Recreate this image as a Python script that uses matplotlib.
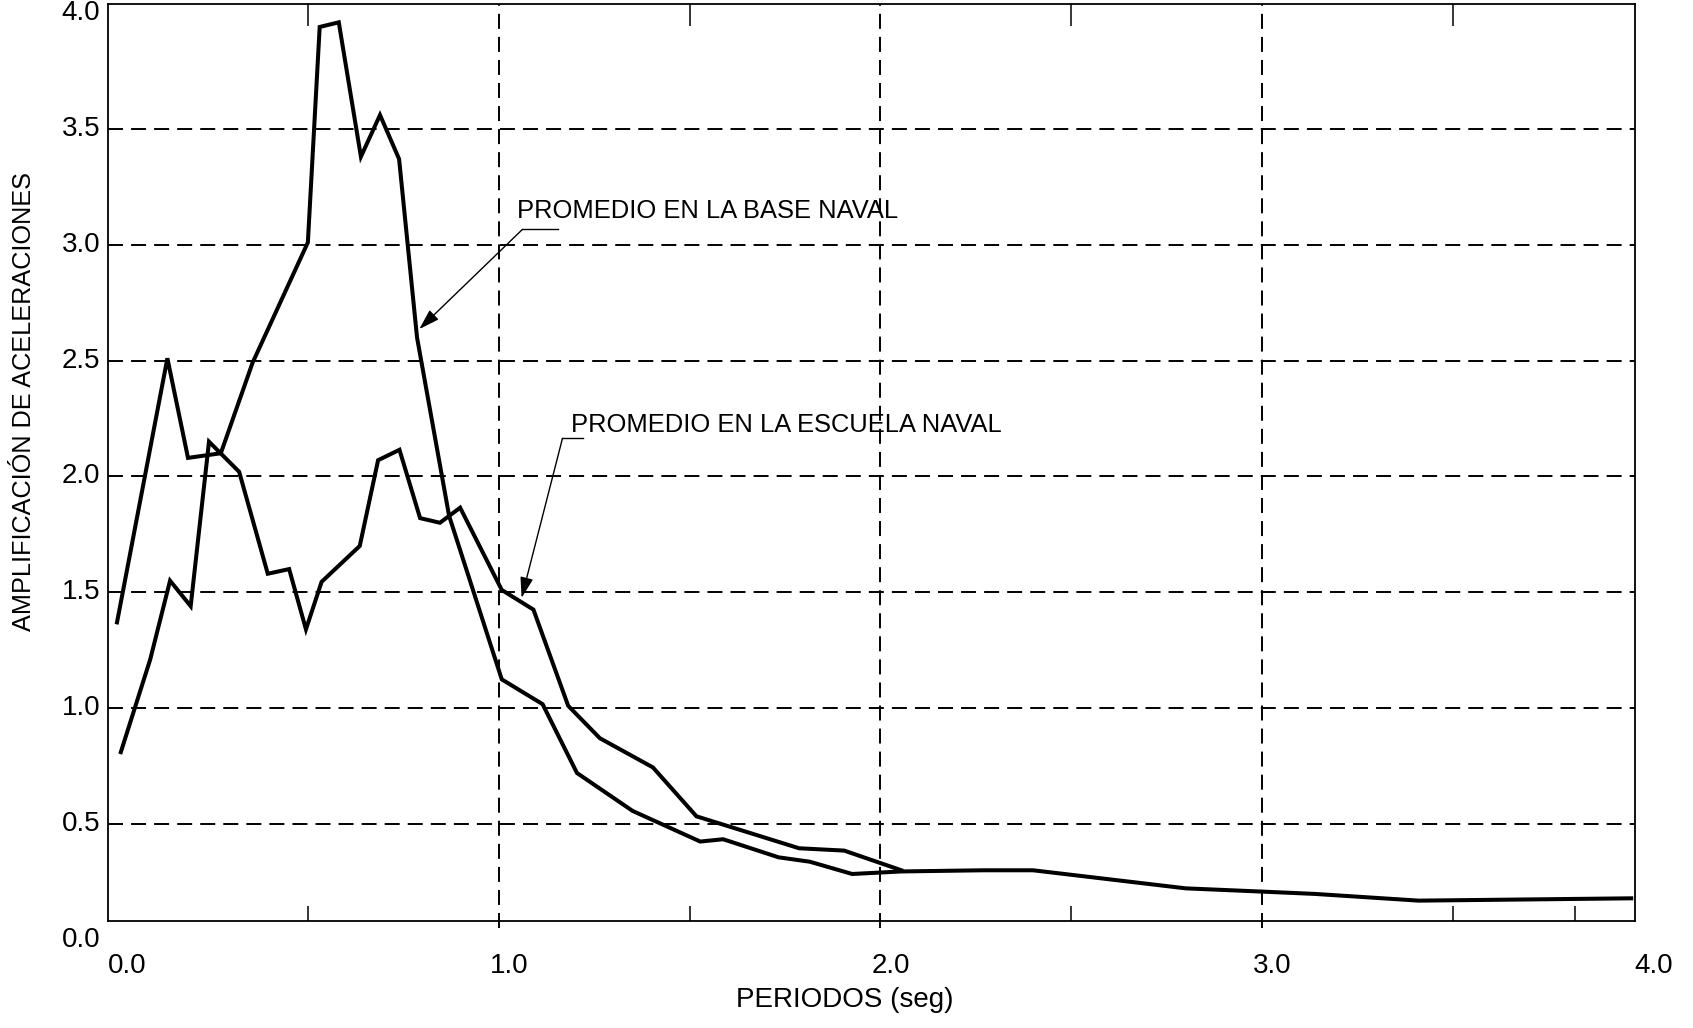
import matplotlib
matplotlib.use("Agg")
import matplotlib.pyplot as plt
import matplotlib.transforms as mtransforms

plt.rcParams['font.family'] = ['Liberation Sans', 'DejaVu Sans']
plt.rcParams['lines.scale_dashes'] = False

# periodo (seg) vs amplificacion
base_t = [0.0, 0.132, 0.186, 0.272, 0.355, 0.500, 0.531, 0.581, 0.639, 0.689,
          0.739, 0.786, 0.870, 1.008, 1.115, 1.205, 1.351, 1.528, 1.588, 1.733,
          1.815, 1.926, 2.055, 2.268, 2.400, 2.800, 3.000, 3.138, 3.410, 3.967]
base_a = [1.37, 2.51, 2.08, 2.10, 2.49, 3.01, 3.94, 3.96, 3.38, 3.56,
          3.37, 2.60, 1.83, 1.124, 1.017, 0.72, 0.556, 0.424, 0.434, 0.356,
          0.337, 0.284, 0.295, 0.30, 0.30, 0.222, 0.208, 0.198, 0.169, 0.179]

escuela_t = [0.010, 0.087, 0.139, 0.193, 0.241, 0.320, 0.395, 0.451, 0.495, 0.536,
             0.636, 0.684, 0.740, 0.794, 0.846, 0.899, 1.008, 1.091, 1.182, 1.265,
             1.404, 1.518, 1.787, 1.905, 2.055]
escuela_a = [0.81, 1.21, 1.55, 1.44, 2.15, 2.02, 1.58, 1.60, 1.34, 1.545,
             1.70, 2.07, 2.115, 1.82, 1.80, 1.865, 1.51, 1.425, 1.01, 0.87,
             0.744, 0.533, 0.395, 0.385, 0.30]

grid_x = [1.0, 2.0, 3.0]
grid_y = [0.5, 1.0, 1.5, 2.0, 2.5, 3.0, 3.5]
top_ticks = [0.5, 1.5, 2.5, 3.5]
bottom_ticks = [0.5, 1.5, 2.5, 3.5, 3.82]
xlabels = [0.0, 1.0, 2.0, 3.0, 4.0]
ylabels = [0.0, 0.5, 1.0, 1.5, 2.0, 2.5, 3.0, 3.5, 4.0]

fig = plt.figure(figsize=(16.93, 10.28), dpi=100)
ax = fig.add_axes([0.06397, 0.10438, 0.9018, 0.8917])
ax.set_xlim(-0.0228, 3.977)
ax.set_ylim(0.0824, 4.039)

dash = (10.8, 5.8)
for y in grid_y:
    ax.axhline(y, color='black', lw=1.4, dashes=dash, zorder=1)
for x in grid_x:
    ax.axvline(x, ymin=-0.008, ymax=1.0, color='black', lw=1.4, dashes=dash,
               zorder=1, clip_on=False)

ax.plot(base_t, base_a, color='black', lw=2.9, solid_joinstyle='miter', zorder=3)
ax.plot(escuela_t, escuela_a, color='black', lw=2.9, solid_joinstyle='miter', zorder=3)

for s in ax.spines.values():
    s.set_linewidth(1.3)

ax.xaxis.remove_overlapping_locs = False
ax.set_xticks(top_ticks)
ax.set_xticks(bottom_ticks, minor=True)
ax.tick_params(axis='x', which='major', top=True, bottom=False, direction='in',
               length=16, width=1.1, labelbottom=False, labeltop=False)
ax.tick_params(axis='x', which='minor', top=False, bottom=True, direction='in',
               length=11, width=1.1, labelbottom=False)
ax.set_yticks([])

# etiquetas de los ejes
xtr = mtransforms.blended_transform_factory(ax.transData, ax.transAxes) + \
    mtransforms.ScaledTranslation(0.10, -0.45, fig.dpi_scale_trans)
for v in xlabels:
    ax.text(v, 0, f"{v:.1f}", transform=xtr, ha='center', va='center',
            fontsize=20, clip_on=False)
ytr = mtransforms.blended_transform_factory(ax.transAxes, ax.transData) + \
    mtransforms.ScaledTranslation(-0.08, 0, fig.dpi_scale_trans)
for v in ylabels:
    ax.text(0, v, f"{v:.1f}", transform=ytr, ha='right', va='center',
            fontsize=20, clip_on=False)

fig.text(23.8 / 1693, 1 - 401.6 / 1028, "AMPLIFICACIÓN DE ACELERACIONES",
         rotation=90, ha='center', va='center', fontsize=18.2)
fig.text(845 / 1693, 1 - 1000 / 1028, "PERIODOS (seg)",
         ha='center', va='center', fontsize=20)

# anotaciones
arrow = dict(arrowstyle='-|>,head_length=0.7,head_width=0.22', lw=1.0,
             color='black', shrinkA=0, shrinkB=0, mutation_scale=18)
ax.text(1.049, 3.114, "PROMEDIO EN LA BASE NAVAL", fontsize=18.4, va='baseline')
ax.plot([1.062, 1.155], [3.066, 3.066], color='black', lw=1.0)
ax.annotate("", xy=(0.792, 2.636), xytext=(1.062, 3.066), arrowprops=arrow)

ax.text(1.189, 2.19, "PROMEDIO EN LA ESCUELA NAVAL", fontsize=18.4, va='baseline')
ax.plot([1.167, 1.222], [2.164, 2.164], color='black', lw=1.0)
ax.annotate("", xy=(1.060, 1.476), xytext=(1.167, 2.164), arrowprops=arrow)

fig.savefig("out.png", dpi=100)
